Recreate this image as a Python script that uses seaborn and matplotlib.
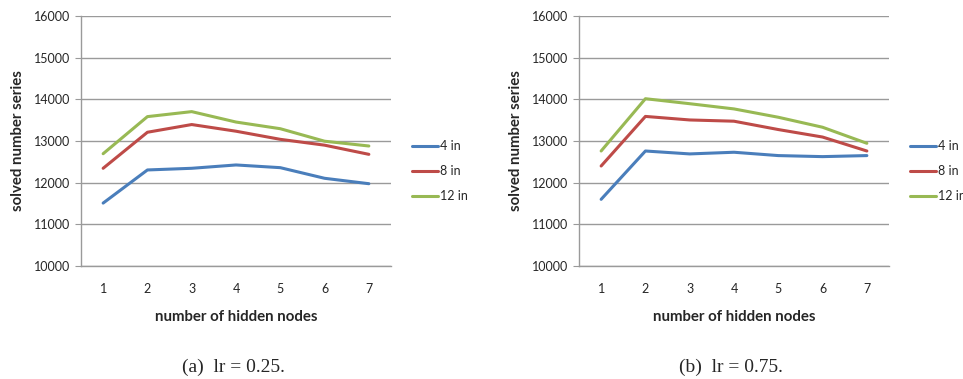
import pandas as pd
import numpy as np
import matplotlib
matplotlib.use('Agg')
import matplotlib.pyplot as plt
import seaborn as sns

# du lieu doc tu hinh
hidden_nodes = [1, 2, 3, 4, 5, 6, 7]
series_names = ['4 in', '8 in', '12 in']

lr025_4in = [11510, 12305, 12345, 12425, 12360, 12105, 11975]
lr025_8in = [12345, 13210, 13395, 13235, 13040, 12900, 12680]
lr025_12in = [12695, 13585, 13705, 13455, 13295, 12995, 12880]

lr075_4in = [11600, 12760, 12690, 12730, 12650, 12625, 12650]
lr075_8in = [12400, 13590, 13505, 13475, 13275, 13095, 12760]
lr075_12in = [12760, 14015, 13895, 13770, 13570, 13330, 12945]

captions = ['(a)  lr = 0.25.', '(b)  lr = 0.75.']
colors = ['#4A7EBB', '#BE4B48', '#98B954']
grid_gray = '#9a9a9a'


def long_df(values):
    rows = []
    for name, vals in zip(series_names, values):
        for x, v in zip(hidden_nodes, vals):
            rows.append({'nodes': x, 'solved': v, 'inputs': name})
    return pd.DataFrame(rows)


panels = [long_df([lr025_4in, lr025_8in, lr025_12in]),
          long_df([lr075_4in, lr075_8in, lr075_12in])]

sns.set_style('white')
plt.rcParams['font.family'] = ['Lato', 'DejaVu Sans']

fig = plt.figure(figsize=(9.63, 3.79), dpi=100)
lefts = [81 / 963, 579 / 963]
bottom = (379 - 266) / 379
width = 310 / 963
height = 250 / 379

for left, df, cap in zip(lefts, panels, captions):
    ax = fig.add_axes([left, bottom, width, height])
    sns.lineplot(data=df, x='nodes', y='solved', hue='inputs',
                 hue_order=series_names, palette=colors, linewidth=2.2,
                 legend=False, ax=ax)
    ax.set_xlim(0.5, 7.5)
    ax.set_ylim(10000, 16000)
    ax.set_yticks(np.arange(10000, 16001, 1000))
    ax.set_xticks(hidden_nodes)
    ax.set_xticks(np.arange(0.5, 7.6, 1), minor=True)
    ax.yaxis.grid(True, color=grid_gray, linewidth=1)
    ax.set_axisbelow(True)
    for s in ['top', 'right']:
        ax.spines[s].set_visible(False)
    for s in ['left', 'bottom']:
        ax.spines[s].set_color(grid_gray)
        ax.spines[s].set_linewidth(1)
    ax.tick_params(axis='x', which='major', length=0, labelsize=9, pad=12)
    ax.tick_params(axis='x', which='minor', length=4, color=grid_gray, direction='out')
    ax.tick_params(axis='y', which='major', length=4, color=grid_gray, direction='out',
                   labelsize=9, pad=4, left=True)
    ax.set_xlabel('number of hidden nodes', fontsize=10.8, fontweight='bold', labelpad=11)
    ax.set_ylabel('solved number series', fontsize=10.8, fontweight='bold', labelpad=6)
    ax.legend(ax.get_lines()[:3], series_names, loc='center left',
              bbox_to_anchor=(1.068, 0.38), frameon=False, fontsize=9,
              handlelength=2.1, handletextpad=0.15, labelspacing=1.05,
              borderpad=0, borderaxespad=0)
    fig.text(left + width / 2 - 3 / 963, 1 - 367 / 379, cap, ha='center', va='center',
             fontsize=14, family=['Liberation Serif'])

fig.savefig('out.png', dpi=100)
